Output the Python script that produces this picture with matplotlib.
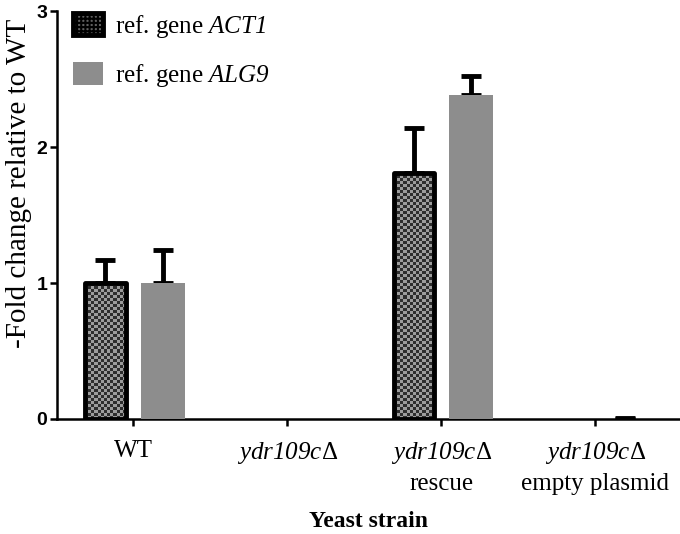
import numpy as np
import matplotlib
matplotlib.use('Agg')
import matplotlib.pyplot as plt
from matplotlib.colors import ListedColormap
from matplotlib.patches import Patch

# everything inside $...$ is italic (digits too)
plt.rcParams['mathtext.fontset'] = 'custom'
plt.rcParams['mathtext.rm'] = 'Liberation Serif:italic'
plt.rcParams['mathtext.it'] = 'Liberation Serif:italic'
plt.rcParams['hatch.color'] = '#a0a0a0'
plt.rcParams['hatch.linewidth'] = 1.5

# data
strains = ['WT', r'$ydr109c$Δ', r'$ydr109c$Δ' + '\nrescue',
           r'$ydr109c$Δ' + '\nempty plasmid']
act1_mean = [1.0, 0.0, 1.81, 0.0]
act1_err = [0.17, 0.0, 0.33, 0.0]
alg9_mean = [1.0, 0.0, 2.38, 0.0]
alg9_err = [0.24, 0.0, 0.14, 0.01]

fig = plt.figure(figsize=(6.8, 5.34), dpi=100)
ax = fig.add_axes([0.084, 0.2154, 0.916, 0.7636])
ax.set_ylim(0, 3)
ax.set_xlim(-0.494, 3.55)

x = np.arange(len(strains))

bars1 = ax.bar(x - 0.18, act1_mean, 0.26, facecolor='none', edgecolor='black',
               linewidth=3.5, zorder=4)
bars2 = ax.bar(x + 0.195, alg9_mean, 0.285, facecolor='#8d8d8d',
               edgecolor='none', zorder=3)

# checkered fill for the ACT1 bars
checker_cmap = ListedColormap(['#2e2e2e', '#9c9c9c'])
for b in bars1:
    b.set_joinstyle('round')
    if b.get_height() <= 0:
        b.set_linewidth(0)
        continue
    bb = b.get_window_extent()
    nc = max(int(bb.width / 3), 1)
    nr = max(int(bb.height / 3), 1)
    board = np.add.outer(np.arange(nr), np.arange(nc)) % 2
    im = ax.imshow(board, cmap=checker_cmap, interpolation='nearest',
                   extent=(b.get_x(), b.get_x() + b.get_width(), 0, b.get_height()),
                   aspect='auto', zorder=3)
    im.set_clip_path(b)

for mean, err, off in [(act1_mean, act1_err, -0.18), (alg9_mean, alg9_err, 0.195)]:
    idx = [i for i in range(len(err)) if err[i] > 0]
    ax.errorbar(x[idx] + off, np.array(mean)[idx],
                yerr=[np.zeros(len(idx)), np.array(err)[idx]], fmt='none',
                ecolor='black', elinewidth=3.5, capsize=7, capthick=3.5, zorder=2)

ax.set_ylim(0, 3)
ax.set_xlim(-0.494, 3.55)
ax.set_yticks([0, 1, 2, 3])
ax.set_xticks(x)
ax.set_xticklabels(strains, fontfamily='Liberation Serif', fontsize=18,
                   linespacing=1.4)
for lab in ax.get_yticklabels():
    lab.set_fontfamily('Liberation Sans')
    lab.set_fontweight('bold')
    lab.set_fontsize(14)

ax.spines['top'].set_visible(False)
ax.spines['right'].set_visible(False)
ax.spines['left'].set_linewidth(1.8)
ax.spines['bottom'].set_linewidth(1.8)
ax.tick_params(axis='both', width=1.8, length=5)
ax.tick_params(axis='x', pad=10)
ax.tick_params(axis='y', pad=2)

ax.set_ylabel('-Fold change relative to WT', fontfamily='Liberation Serif',
              fontsize=21)
ax.yaxis.set_label_coords(-0.04, 0.578)
ax.set_xlabel('Yeast strain', fontfamily='Liberation Serif', fontweight='bold',
              fontsize=17, labelpad=12)

handles = [Patch(facecolor='#606060', edgecolor='black', linewidth=3.5,
                 hatch='++++', joinstyle='round'),
           Patch(facecolor='#8d8d8d', edgecolor='none')]
ax.legend(handles, [r'ref. gene $ACT1$', r'ref. gene $ALG9$'],
          loc='upper left', bbox_to_anchor=(-0.01, 1.052), frameon=False,
          prop={'family': 'Liberation Serif', 'size': 18}, labelspacing=0.9,
          handlelength=1.2, handleheight=1.0, handletextpad=0.45)

fig.savefig('out.png', dpi=100)
